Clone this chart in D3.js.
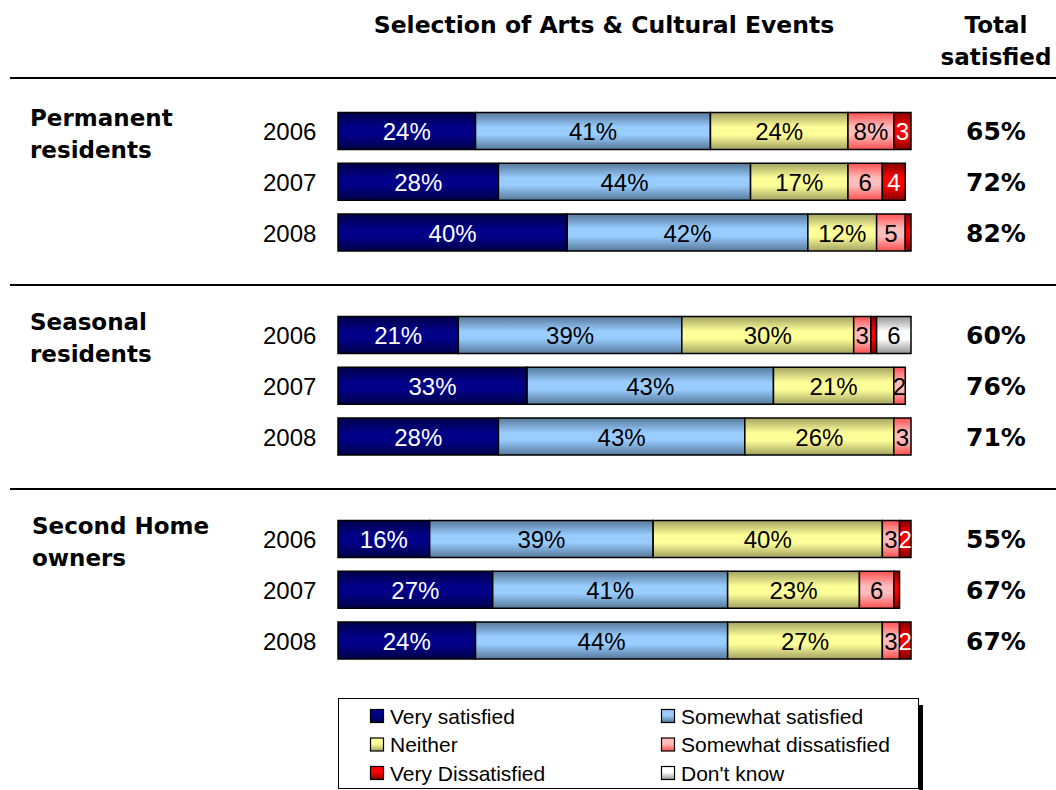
<!DOCTYPE html>
<html>
<head>
<meta charset="utf-8">
<script src="https://cdn.jsdelivr.net/npm/d3@7"></script>
<style>
  html, body { margin: 0; padding: 0; background: #fff; }
  svg { display: block; }
  .reg { font-family: "Liberation Sans", Arial, sans-serif; }
  .bold { font-family: "DejaVu Sans", Verdana, sans-serif; font-weight: bold; }
</style>
</head>
<body>
<svg id="chart" width="1056" height="790"></svg>
<script>
// Satisfaction with the selection of arts & cultural events, by resident type and year
const title = "Selection of Arts & Cultural Events";
const totalHeader = ["Total", "satisfied"];
const groupLines = [["Permanent", "residents"], ["Seasonal", "residents"], ["Second Home", "owners"]];
const years = ["2006", "2007", "2008"];
const categories = ["Very satisfied", "Somewhat satisfied", "Neither", "Somewhat dissatisfied", "Very Dissatisfied", "Don't know"];

// one entry per row: Permanent 2006-2008, Seasonal 2006-2008, Second Home 2006-2008
const verySatisfied      = [24, 28, 40, 21, 33, 28, 16, 27, 24];
const somewhatSatisfied  = [41, 44, 42, 39, 43, 43, 39, 41, 44];
const neither            = [24, 17, 12, 30, 21, 26, 40, 23, 27];
const somewhatDissat     = [ 8,  6,  5,  3,  2,  3,  3,  6,  3];
const veryDissatisfied   = [ 3,  4,  1,  1,  0,  0,  2,  1,  2];
const dontKnow           = [ 0,  0,  0,  6,  0,  0,  0,  0,  0];
const totalSatisfied     = [65, 72, 82, 60, 76, 71, 55, 67, 67];

const series = [verySatisfied, somewhatSatisfied, neither, somewhatDissat, veryDissatisfied, dontKnow];

// fill styles: [edge, centre] for the bar shading, and label colour
const palette = [
  { edge: "#00004a", mid: "#000088", text: "#fff" },
  { edge: "#56799a", mid: "#99ccff", text: "#000" },
  { edge: "#a3a362", mid: "#ffff99", text: "#000" },
  { edge: "#ff5050", mid: "#ffbcbc", text: "#000" },
  { edge: "#850000", mid: "#ff0000", text: "#fff" },
  { edge: "#959595", mid: "#ffffff", text: "#000" }
];

const svg = d3.select("#chart");
const defs = svg.append("defs");

palette.forEach((p, i) => {
  const g = defs.append("linearGradient").attr("id", "bar" + i)
    .attr("x1", 0).attr("y1", 0).attr("x2", 0).attr("y2", 1);
  g.append("stop").attr("offset", "0%").attr("stop-color", p.edge);
  g.append("stop").attr("offset", "40%").attr("stop-color", p.mid);
  g.append("stop").attr("offset", "60%").attr("stop-color", p.mid);
  g.append("stop").attr("offset", "100%").attr("stop-color", p.edge);
  const lg = defs.append("linearGradient").attr("id", "key" + i)
    .attr("x1", 0).attr("y1", 0).attr("x2", 0).attr("y2", 1);
  lg.append("stop").attr("offset", "0%").attr("stop-color", p.mid);
  lg.append("stop").attr("offset", "45%").attr("stop-color", p.mid);
  lg.append("stop").attr("offset", "100%").attr("stop-color", p.edge);
});

// scales
const x = d3.scaleLinear().domain([0, 100]).range([338, 911]);
const groupY = d3.scalePoint().domain(d3.range(groupLines.length)).range([131, 539]);
const yearY = d3.scalePoint().domain(years).range([0, 101.5]);
const barH = 37;

// header
svg.append("text").attr("class", "bold").attr("x", 604).attr("y", 33)
  .attr("text-anchor", "middle").attr("font-size", 23.5).text(title);
svg.append("text").attr("class", "bold").attr("text-anchor", "middle")
  .attr("font-size", 23)
  .selectAll("tspan").data(totalHeader).join("tspan")
  .attr("x", 996).attr("y", (d, i) => 33 + i * 32).text(d => d);

// group separators
[78, 285, 489].forEach(yy => {
  svg.append("line").attr("x1", 10).attr("x2", 1056).attr("y1", yy).attr("y2", yy)
    .attr("stroke", "#000").attr("stroke-width", 2);
});

// group titles
groupLines.forEach((lines, gi) => {
  svg.append("text").attr("class", "bold").attr("font-size", 23)
    .selectAll("tspan").data(lines).join("tspan")
    .attr("x", gi === 2 ? 32 : 30)
    .attr("y", (d, i) => groupY(gi) - 5 + i * 32)
    .text(d => d);
});

// rows
const rows = d3.range(verySatisfied.length).map(r => {
  const gi = Math.floor(r / years.length);
  const year = years[r % years.length];
  let acc = 0;
  const segs = series.map((s, ci) => {
    const seg = { ci, v: s[r], x0: acc, x1: acc + s[r] };
    acc += s[r];
    return seg;
  }).filter(s => s.v > 0);
  return { r, gi, year, cy: groupY(gi) + yearY(year), segs, total: totalSatisfied[r] };
});

const row = svg.append("g").selectAll("g").data(rows).join("g");

row.append("text").attr("class", "reg").attr("font-size", 24)
  .attr("x", 263).attr("y", d => d.cy + 9).text(d => d.year);

row.selectAll("rect").data(d => d.segs.map(s => ({ ...s, cy: d.cy }))).join("rect")
  .attr("x", s => x(s.x0)).attr("width", s => x(s.x1) - x(s.x0))
  .attr("y", s => s.cy - barH / 2).attr("height", barH)
  .attr("fill", s => `url(#bar${s.ci})`)
  .attr("stroke", "#000").attr("stroke-width", 1.5);

const fmt = v => v >= 8 ? v + "%" : String(v);
row.selectAll("text.val").data(d => d.segs.filter(s => s.v > 1).map(s => ({ ...s, cy: d.cy }))).join("text")
  .attr("class", "val reg").attr("font-size", 24).attr("text-anchor", "middle")
  .attr("x", s => (x(s.x0) + x(s.x1)) / 2).attr("y", s => s.cy + 9)
  .attr("fill", s => palette[s.ci].text).text(s => fmt(s.v));

row.append("text").attr("class", "bold").attr("font-size", 25).attr("text-anchor", "middle")
  .attr("x", 996).attr("y", d => d.cy + 9).text(d => d.total + "%");

// legend
const lg = svg.append("g");
lg.append("rect").attr("x", 919).attr("y", 705).attr("width", 4).attr("height", 90).attr("fill", "#000");
lg.append("rect").attr("x", 338.5).attr("y", 698.5).attr("width", 580).attr("height", 90)
  .attr("fill", "#fff").attr("stroke", "#000").attr("stroke-width", 1);
const keyItems = lg.selectAll("g").data(categories).join("g")
  .attr("transform", (d, i) => `translate(${i % 2 === 0 ? 370 : 661},${716 + Math.floor(i / 2) * 28.5})`);
keyItems.append("rect").attr("x", 0.5).attr("y", -6.5).attr("width", 13).attr("height", 13)
  .attr("fill", (d, i) => `url(#key${i})`).attr("stroke", "#000").attr("stroke-width", 1.2);
keyItems.append("text").attr("class", "reg").attr("font-size", 21)
  .attr("x", 20).attr("y", 7.5).text(d => d);
</script>
</body>
</html>
